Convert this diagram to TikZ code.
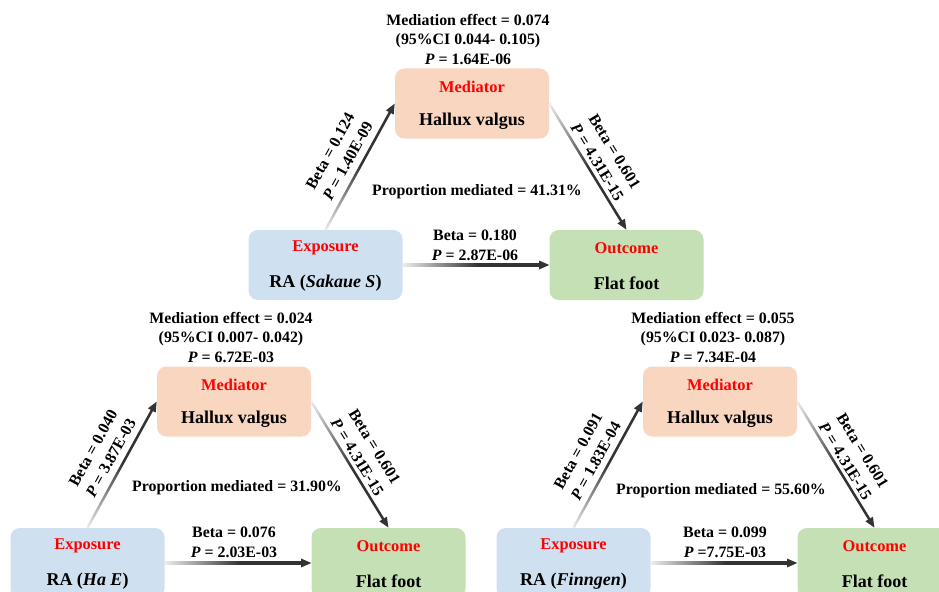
\documentclass[tikz,border=0pt]{standalone}
\usepackage{fontspec}
\setmainfont{Liberation Serif}
\usetikzlibrary{calc,arrows.meta}
\definecolor{medfill}{HTML}{F8D6C0}
\definecolor{expfill}{HTML}{CFE0F1}
\definecolor{outfill}{HTML}{C5E0B4}
\definecolor{lblred}{HTML}{FF0000}
\pgfdeclarehorizontalshading{connramp}{100bp}{color(0bp)=(black!7); color(25bp)=(black!7); color(52bp)=(black!80); color(75bp)=(black!80); color(100bp)=(black!80)}
\tikzset{
  box/.style={rounded corners=7pt, minimum width=115.5pt, minimum height=52.5pt, inner sep=0pt, draw=none},
  txt/.style={font=\fontsize{11.9}{14.8}\selectfont\bfseries, align=center, inner sep=0pt},
  rottxt/.style={font=\fontsize{12}{15.2}\selectfont\bfseries, align=center, inner sep=0pt},
  redlbl/.style={font=\fontsize{12.3}{14}\selectfont\bfseries, text=lblred, inner sep=0pt},
  namelbl/.style={font=\fontsize{13.5}{16}\selectfont\bfseries, inner sep=0pt},
  connbar/.style={shading=connramp},
  conntip/.style={fill=black!80},
}
\newcommand{\gradconn}[2]{%
  \path (#1); \pgfgetlastxy{\gcxa}{\gcya}%
  \path (#2); \pgfgetlastxy{\gcxb}{\gcyb}%
  \pgfmathsetmacro\gcang{atan2(\gcyb-\gcya,\gcxb-\gcxa)}%
  \pgfmathsetmacro\gclen{veclen(\gcxb-\gcxa,\gcyb-\gcya)}%
  \pgfmathsetmacro\gcbar{\gclen-6}%
  \pgfmathsetmacro\gctip{\gclen-7.5}%
  \begin{scope}[transform canvas={shift={(\gcxa,\gcya)}, rotate=\gcang}]
    \shade[connbar] (0pt,-0.95pt) rectangle (\gcbar pt,0.95pt);
    \fill[conntip] (\gclen pt,0pt) -- (\gctip pt,3.3pt) -- (\gctip pt,-3.3pt) -- cycle;
  \end{scope}%
}
\begin{document}
\begin{tikzpicture}[x=0.75pt,y=-0.75pt]
\useasboundingbox (0,0) rectangle (939,592);

% ---------- top triangle ----------
\begin{scope}
\node[box, fill=medfill] (medA) at (472,103.5) {};
\node[box, fill=expfill] (expA) at (325.5,265) {};
\node[box, fill=outfill] (outA) at (626.5,265) {};
\node[redlbl] (medAt) at (472,87) {Mediator};
\node[namelbl] (medAn) at (472,121) {Hallux valgus};
\node[redlbl] (expAt) at (325.5,248) {Exposure};
\node[namelbl] (expAn) at (325.5,283) {RA (\textit{Sakaue S})};
\node[redlbl] (outAt) at (626.5,248) {Outcome};
\node[namelbl] (outAn) at (626.5,283) {Flat foot};
\node[txt] (effA) at (468,39.5) {Mediation effect = 0.074\\(95\%CI 0.044- 0.105)\\\textit{P} = 1.64E-06};
\node[txt] (propA) at (477,192) {Proportion mediated = 41.31\%};
\node[txt] (dirA) at (475,245.5) {Beta = 0.180\\\textit{P} = 2.87E-06};
\node[rottxt, rotate=61.2] (l1A) at (339,156) {Beta = 0.124\\\textit{P} = 1.40E-09};
\node[rottxt, rotate=-58.5] (l2A) at (606,157) {Beta = 0.601\\\textit{P} = 4.31E-15};
\end{scope}

% ---------- bottom-left triangle ----------
\begin{scope}[shift={(-238,298)}]
\node[box, fill=medfill] (medB) at (472,103.5) {};
\node[box, fill=expfill] (expB) at (325.5,265) {};
\node[box, fill=outfill] (outB) at (626.5,265) {};
\node[redlbl] (medBt) at (472,87) {Mediator};
\node[namelbl] (medBn) at (472,121) {Hallux valgus};
\node[redlbl] (expBt) at (325.5,248) {Exposure};
\node[namelbl] (expBn) at (325.5,283) {RA (\textit{Ha E})};
\node[redlbl] (outBt) at (626.5,248) {Outcome};
\node[namelbl] (outBn) at (626.5,283) {Flat foot};
\node[txt] (effB) at (469,39.5) {Mediation effect = 0.024\\(95\%CI 0.007- 0.042)\\\textit{P} = 6.72E-03};
\node[txt] (propB) at (475,190) {Proportion mediated = 31.90\%};
\node[txt] (dirB) at (472,244.5) {Beta = 0.076\\\textit{P} = 2.03E-03};
\node[rottxt, rotate=61.2] (l1B) at (340,155) {Beta = 0.040\\\textit{P} = 3.87E-03};
\node[rottxt, rotate=-58.5] (l2B) at (604,154) {Beta = 0.601\\\textit{P} = 4.31E-15};
\end{scope}

% ---------- bottom-right triangle ----------
\begin{scope}[shift={(248,298)}]
\node[box, fill=medfill] (medC) at (472,103.5) {};
\node[box, fill=expfill] (expC) at (325.5,265) {};
\node[box, fill=outfill] (outC) at (626.5,265) {};
\node[redlbl] (medCt) at (472,87) {Mediator};
\node[namelbl] (medCn) at (472,121) {Hallux valgus};
\node[redlbl] (expCt) at (325.5,248) {Exposure};
\node[namelbl] (expCn) at (325.5,283) {RA (\textit{Finngen})};
\node[redlbl] (outCt) at (626.5,248) {Outcome};
\node[namelbl] (outCn) at (626.5,283) {Flat foot};
\node[txt] (effC) at (465,39.5) {Mediation effect = 0.055\\(95\%CI 0.023- 0.087)\\\textit{P} = 7.34E-04};
\node[txt] (propC) at (473,193) {Proportion mediated = 55.60\%};
\node[txt] (dirC) at (477,244.5) {Beta = 0.099\\\textit{P} =7.75E-03};
\node[rottxt, rotate=61.2] (l1C) at (339,158) {Beta = 0.091\\\textit{P} = 1.83E-04};
\node[rottxt, rotate=-58.5] (l2C) at (606,158) {Beta = 0.601\\\textit{P} = 4.31E-15};
\end{scope}

% ---------- connectors ----------
\gradconn{expA.north}{medA.west}
\gradconn{medA.east}{outA.north}
\gradconn{expA.east}{outA.west}
\gradconn{expB.north}{medB.west}
\gradconn{medB.east}{outB.north}
\gradconn{expB.east}{outB.west}
\gradconn{expC.north}{medC.west}
\gradconn{medC.east}{outC.north}
\gradconn{expC.east}{outC.west}
\end{tikzpicture}
\end{document}
